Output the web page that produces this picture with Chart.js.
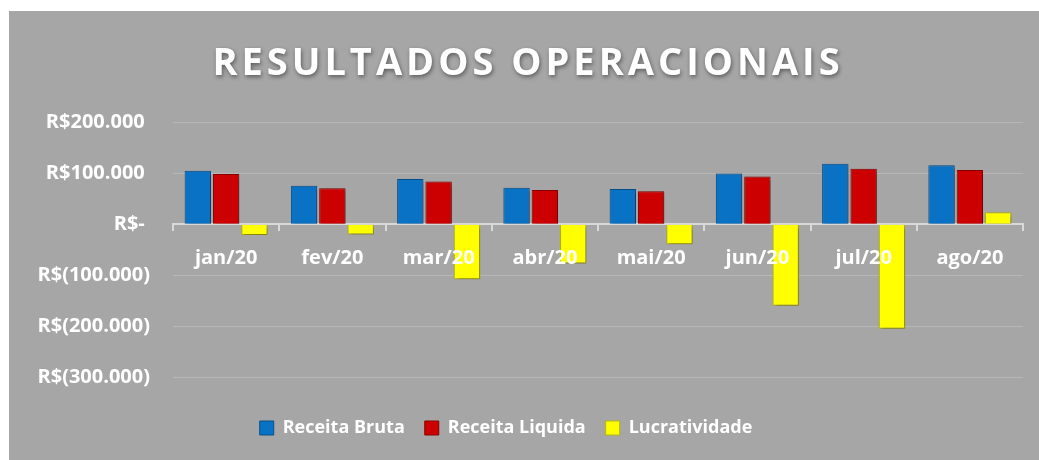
<!DOCTYPE html>
<html lang="pt-BR">
<head>
    <title>Resultados Operacionais</title>
    <script src="https://cdn.jsdelivr.net/npm/chart.js"></script>
    <style>
        body {
            margin: 0;
            background: #ffffff;
        }
        .chart-box {
            position: absolute;
            left: 9px;
            top: 11px;
            width: 1030px;
            height: 449px;
            background: #a6a6a6;
        }
    </style>
</head>
<body>
    <div class="chart-box">
        <canvas id="resultados"></canvas>
    </div>

    <script>
        // dados
        const meses = ['jan/20', 'fev/20', 'mar/20', 'abr/20', 'mai/20', 'jun/20', 'jul/20', 'ago/20'];
        const receitaBruta = [105500, 76000, 89000, 72000, 69500, 100000, 119000, 116000];
        const receitaLiquida = [99000, 71000, 84000, 67500, 65000, 94000, 109500, 107000];
        const lucratividade = [-21000, -20000, -108000, -77000, -39000, -160000, -205000, 24000];

        function formatoReais(v) {
            if (v === 0) return 'R$- ';
            const s = Math.abs(v).toString().replace(/\B(?=(\d{3})+(?!\d))/g, '.');
            return v < 0 ? 'R$(' + s + ')' : 'R$' + s + ' ';
        }

        const fonte = '"Open Sans", Lato, sans-serif';

        // titulo espacado e com sombra, sombra nas barras, legenda deslocada como no original
        const ajustes = {
            id: 'ajustes',
            afterLayout(chart) {
                const t = chart.titleBlock;
                if (t && !t._ajustado) {
                    const desenha = t.draw.bind(t);
                    t.draw = function () {
                        const c = chart.ctx;
                        c.save();
                        c.letterSpacing = '4px';
                        c.shadowColor = 'rgba(0, 0, 0, 0.45)';
                        c.shadowBlur = 4;
                        c.shadowOffsetX = 1;
                        c.shadowOffsetY = 2;
                        desenha();
                        c.restore();
                    };
                    t._ajustado = true;
                }
                chart.legend.left -= 22;
                chart.legend.right -= 22;
            },
            beforeDatasetsDraw(chart) {
                const c = chart.ctx;
                c.save();
                c.shadowColor = 'rgba(0, 0, 0, 0.35)';
                c.shadowBlur = 4;
                c.shadowOffsetX = 2;
                c.shadowOffsetY = 2;
            },
            afterDatasetsDraw(chart) {
                chart.ctx.restore();
            }
        };

        const ctx = document.getElementById('resultados').getContext('2d');
        const chart = new Chart(ctx, {
            type: 'bar',
            data: {
                labels: meses,
                datasets: [
                    {
                        label: 'Receita Bruta',
                        data: receitaBruta,
                        backgroundColor: '#0a72c4',
                        borderColor: '#07508a',
                        borderWidth: 1
                    },
                    {
                        label: 'Receita Liquida',
                        data: receitaLiquida,
                        backgroundColor: '#cc0000',
                        borderColor: '#8a0000',
                        borderWidth: 1
                    },
                    {
                        label: 'Lucratividade',
                        data: lucratividade,
                        backgroundColor: '#ffff00',
                        borderColor: '#b8b800',
                        borderWidth: 1
                    }
                ]
            },
            plugins: [ajustes],
            options: {
                responsive: true,
                maintainAspectRatio: false,
                animation: false,
                categoryPercentage: 0.8,
                barPercentage: 0.93,
                layout: {
                    padding: { left: 24, right: 16, top: 0, bottom: 13 }
                },
                plugins: {
                    title: {
                        display: true,
                        text: 'RESULTADOS OPERACIONAIS',
                        color: '#ffffff',
                        font: { family: fonte, size: 38, weight: 'bold' },
                        padding: { top: 30, bottom: 36 }
                    },
                    legend: {
                        position: 'bottom',
                        labels: {
                            color: '#ffffff',
                            boxWidth: 14,
                            boxHeight: 14,
                            padding: 20,
                            font: { family: fonte, size: 18, weight: 'bold' }
                        }
                    },
                    tooltip: { enabled: false }
                },
                scales: {
                    x: {
                        position: { y: 0 },
                        grid: {
                            display: true,
                            drawOnChartArea: false,
                            drawTicks: true,
                            tickLength: 6,
                            color: '#d9d9d9',
                            lineWidth: 2
                        },
                        border: { display: true, color: '#d9d9d9', width: 2 },
                        ticks: {
                            z: 1,
                            color: '#ffffff',
                            padding: 16,
                            maxRotation: 0,
                            font: { family: fonte, size: 20, weight: 'bold' }
                        }
                    },
                    y: {
                        min: -300000,
                        max: 200000,
                        afterFit: (s) => { s.width = 140; },
                        grid: {
                            color: 'rgba(255, 255, 255, 0.2)',
                            drawTicks: false
                        },
                        border: { display: false },
                        ticks: {
                            stepSize: 100000,
                            padding: 23,
                            color: '#ffffff',
                            font: { family: fonte, size: 20, weight: 'bold' },
                            callback: (v) => formatoReais(v)
                        }
                    },
                    // espaco entre o grafico e a legenda
                    folga: {
                        type: 'linear',
                        position: 'bottom',
                        grid: { display: false },
                        border: { display: false },
                        ticks: { display: false },
                        afterFit: (s) => { s.height = 22; }
                    }
                }
            }
        });
    </script>
</body>
</html>
